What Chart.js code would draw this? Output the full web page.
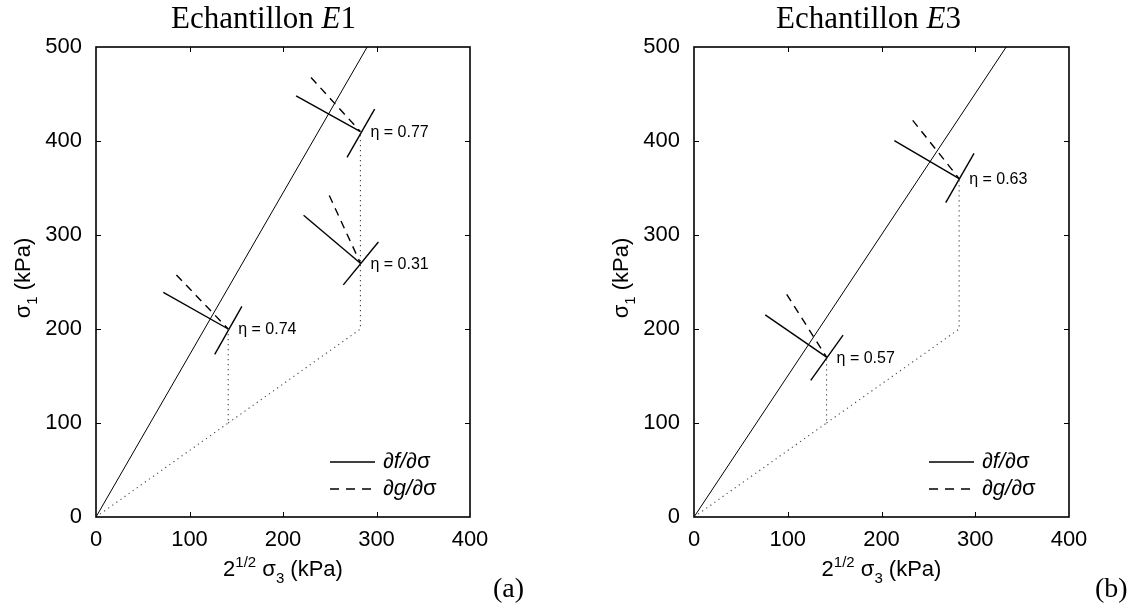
<!DOCTYPE html>
<html>
<head>
<meta charset="utf-8">
<script src="https://cdn.jsdelivr.net/npm/chart.js@4/dist/chart.umd.min.js"></script>
<style>
  html, body { margin:0; padding:0; background:#fff; }
  .panel { position:absolute; top:0; height:610px; }
</style>
</head>
<body>
<div class="panel" style="left:0;width:568px"><canvas id="chart-e1" width="568" height="610"></canvas></div>
<div class="panel" style="left:568px;width:569px"><canvas id="chart-e3" width="569" height="610"></canvas></div>
<script>
const X_TICKS = [0, 100, 200, 300, 400];
const Y_TICKS = [0, 100, 200, 300, 400, 500];

// Echantillon E1
const E1_YIELD       = [[0, 0], [290, 500]];
const E1_PATH_A      = [[0, 0], [141.4, 100], [141.4, 200]];
const E1_PATH_B      = [[141.4, 100], [282.8, 200], [282.8, 410]];
const E1_POINTS      = [[141.4, 200], [282.8, 270], [282.8, 410]];
const E1_ETA         = ['0.74', '0.31', '0.77'];
const E1_NORMAL_FROM = [[72, 239], [222, 321], [214, 448]];
const E1_TANGENT_LO  = [[127, 173], [264.5, 247], [268.5, 382.5]];
const E1_TANGENT_HI  = [[156, 224], [302, 292.5], [298, 434]];
const E1_DASH_FROM   = [[86, 257.5], [249.5, 342], [230, 467.5]];

// Echantillon E3
const E3_YIELD       = [[0, 0], [333, 500]];
const E3_PATH_A      = [[0, 0], [141.4, 100], [141.4, 170]];
const E3_PATH_B      = [[141.4, 100], [282.8, 200], [282.8, 360]];
const E3_POINTS      = [[141.4, 170], [282.8, 360]];
const E3_ETA         = ['0.57', '0.63'];
const E3_NORMAL_FROM = [[76, 215], [213.7, 400.3]];
const E3_TANGENT_LO  = [[124.5, 145.3], [268.5, 334.4]];
const E3_TANGENT_HI  = [[159, 193.4], [298.7, 386.8]];
const E3_DASH_FROM   = [[98.9, 236.9], [233.3, 422]];

const SANS  = "'Liberation Sans', Arial, Helvetica, sans-serif";
const SERIF = "'Liberation Serif', 'Times New Roman', serif";

const xy = pts => pts.map(p => ({ x: p[0], y: p[1] }));
const line = (pts, extra) => Object.assign({
  data: xy(pts), showLine: true, pointRadius: 0, borderColor: '#000', borderWidth: 1.4, fill: false, tension: 0
}, extra || {});

function buildDatasets(yieldLine, pathA, pathB, points, normalFrom, tanLo, tanHi, dashFrom) {
  const ds = [
    line(yieldLine, { borderWidth: 1 }),
    line(pathA, { borderColor: '#444', borderWidth: 1.1, borderDash: [1.2, 3.8] }),
    line(pathB, { borderColor: '#444', borderWidth: 1.1, borderDash: [1.2, 3.8] }),
  ];
  points.forEach((p, i) => {
    ds.push(line([normalFrom[i], p]));
    ds.push(line([tanLo[i], tanHi[i]]));
    ds.push(line([dashFrom[i], p], { borderDash: [8, 6] }));
  });
  return ds;
}

// box, inner ticks, labels and the bits Chart.js can't typeset (sub/superscripts)
const panelDeco = {
  id: 'panelDeco',
  afterDatasetsDraw(chart, args, o) {
    const { ctx, chartArea: a, scales: { x, y } } = chart;
    ctx.save();
    ctx.strokeStyle = '#000';
    ctx.fillStyle = '#000';
    ctx.lineWidth = 1.6;
    ctx.strokeRect(a.left, a.top, a.right - a.left, a.bottom - a.top);

    ctx.lineWidth = 1;
    ctx.beginPath();
    X_TICKS.slice(1, -1).forEach(v => {
      const p = Math.round(x.getPixelForValue(v)) + 0.5;
      ctx.moveTo(p, a.bottom); ctx.lineTo(p, a.bottom - 5);
      ctx.moveTo(p, a.top);    ctx.lineTo(p, a.top + 5);
    });
    Y_TICKS.slice(1, -1).forEach(v => {
      const p = Math.round(y.getPixelForValue(v)) + 0.5;
      ctx.moveTo(a.left, p);  ctx.lineTo(a.left + 5, p);
      ctx.moveTo(a.right, p); ctx.lineTo(a.right - 5, p);
    });
    ctx.stroke();

    // eta labels
    ctx.font = '16px ' + SANS;
    ctx.textBaseline = 'middle';
    ctx.textAlign = 'left';
    o.points.forEach((p, i) => {
      ctx.fillText('\u03B7 = ' + o.eta[i], x.getPixelForValue(p[0]) + 10, y.getPixelForValue(p[1]) + 1);
    });

    // legend
    const lx0 = a.right - 140, lx1 = a.right - 95, tx = a.right - 87;
    const ly = [a.bottom - 55, a.bottom - 28];
    ctx.lineWidth = 1.4;
    ctx.beginPath(); ctx.moveTo(lx0, ly[0]); ctx.lineTo(lx1, ly[0]); ctx.stroke();
    ctx.setLineDash([9, 7]);
    ctx.beginPath(); ctx.moveTo(lx0, ly[1]); ctx.lineTo(lx1, ly[1]); ctx.stroke();
    ctx.setLineDash([]);
    ['f', 'g'].forEach((s, i) => {
      ctx.font = 'italic 22px ' + SANS;
      const head = '\u2202' + s + '/\u2202';
      ctx.fillText(head, tx, ly[i]);
      const w = ctx.measureText(head).width;
      ctx.font = '22px ' + SANS;
      ctx.fillText('\u03C3', tx + w, ly[i]);
    });

    // x axis title: 2^{1/2} sigma_3 (kPa)
    ctx.textBaseline = 'alphabetic';
    const parts = [
      ['2', 22, 0], ['1/2', 15, -9], [' \u03C3', 22, 0], ['3', 15, 7], [' (kPa)', 22, 0]
    ];
    const widths = parts.map(p => { ctx.font = p[1] + 'px ' + SANS; return ctx.measureText(p[0]).width; });
    let cx = (a.left + a.right) / 2 - widths.reduce((s, w) => s + w, 0) / 2;
    parts.forEach((p, i) => {
      ctx.font = p[1] + 'px ' + SANS;
      ctx.fillText(p[0], cx, 576 + p[2]);
      cx += widths[i];
    });

    // y axis title: sigma_1 (kPa), rotated
    ctx.save();
    ctx.translate(a.left - 66, (a.top + a.bottom) / 2 - 4);
    ctx.rotate(-Math.PI / 2);
    const yparts = [['\u03C3', 22, 0], ['1', 15, 7], [' (kPa)', 22, 0]];
    const yw = yparts.map(p => { ctx.font = p[1] + 'px ' + SANS; return ctx.measureText(p[0]).width; });
    let cy = -yw.reduce((s, w) => s + w, 0) / 2;
    yparts.forEach((p, i) => {
      ctx.font = p[1] + 'px ' + SANS;
      ctx.fillText(p[0], cy, 0 + p[2]);
      cy += yw[i];
    });
    ctx.restore();

    // panel title: Echantillon E1
    const tparts = [['Echantillon ', ''], ['E', 'italic '], [o.sample, '']];
    const tw = tparts.map(p => { ctx.font = p[1] + '31px ' + SERIF; return ctx.measureText(p[0]).width; });
    let ttx = o.titleX - tw.reduce((s, w) => s + w, 0) / 2;
    tparts.forEach((p, i) => {
      ctx.font = p[1] + '31px ' + SERIF;
      ctx.fillText(p[0], ttx, 28);
      ttx += tw[i];
    });

    // (a) / (b)
    ctx.font = '28px ' + SERIF;
    ctx.fillText(o.tag, o.tagX, 597);
    ctx.restore();
  }
};

function makeChart(id, datasets, yWidth, padRight, deco) {
  return new Chart(document.getElementById(id), {
    type: 'scatter',
    data: { datasets },
    plugins: [panelDeco],
    options: {
      responsive: false,
      animation: false,
      layout: { padding: { top: 47, right: padRight, left: 0, bottom: 0 } },
      plugins: { legend: { display: false }, tooltip: { enabled: false }, panelDeco: deco },
      scales: {
        x: {
          type: 'linear', min: 0, max: 400,
          afterBuildTicks: s => { s.ticks = X_TICKS.map(v => ({ value: v })); },
          afterFit: s => { s.height = 93; },
          grid: { display: false }, border: { display: false },
          ticks: { color: '#000', padding: 2, font: { family: SANS, size: 22 }, maxRotation: 0 },
        },
        y: {
          type: 'linear', min: 0, max: 500,
          afterBuildTicks: s => { s.ticks = Y_TICKS.map(v => ({ value: v })); },
          afterFit: s => { s.width = yWidth; },
          grid: { display: false }, border: { display: false },
          ticks: { color: '#000', padding: 6, font: { family: SANS, size: 22 } },
        },
      },
    },
  });
}

makeChart('chart-e1',
  buildDatasets(E1_YIELD, E1_PATH_A, E1_PATH_B, E1_POINTS, E1_NORMAL_FROM, E1_TANGENT_LO, E1_TANGENT_HI, E1_DASH_FROM),
  96, 98,
  { points: E1_POINTS, eta: E1_ETA, sample: '1', titleX: 263.5, tag: '(a)', tagX: 493 });

makeChart('chart-e3',
  buildDatasets(E3_YIELD, E3_PATH_A, E3_PATH_B, E3_POINTS, E3_NORMAL_FROM, E3_TANGENT_LO, E3_TANGENT_HI, E3_DASH_FROM),
  126, 68,
  { points: E3_POINTS, eta: E3_ETA, sample: '3', titleX: 300.5, tag: '(b)', tagX: 527 });
</script>
</body>
</html>
